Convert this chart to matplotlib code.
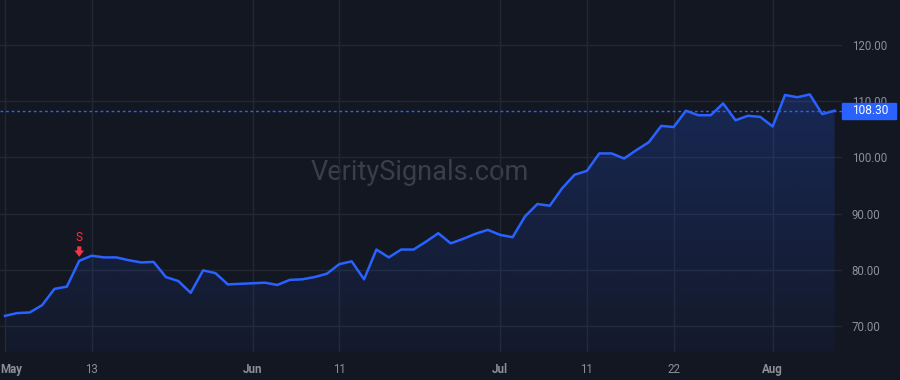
import numpy as np
import matplotlib
matplotlib.use('Agg')
import matplotlib.pyplot as plt
import matplotlib.transforms as mtransforms
from matplotlib.patches import Rectangle

# daily closes (one per trading session)
closes = [71.8, 72.3, 72.4, 73.7, 76.6, 77.0, 81.6, 82.5, 82.2, 82.2,
          81.7, 81.3, 81.4, 78.7, 78.0, 75.9, 79.9, 79.4, 77.4, 77.5,
          77.6, 77.7, 77.3, 78.2, 78.3, 78.7, 79.3, 81.0, 81.5, 78.3,
          83.6, 82.2, 83.6, 83.6, 85.0, 86.5, 84.7, 85.5, 86.4, 87.1,
          86.2, 85.8, 89.5, 91.7, 91.4, 94.5, 96.9, 97.6, 100.7, 100.7,
          99.8, 101.3, 102.7, 105.6, 105.4, 108.3, 107.5, 107.5, 109.6, 106.6,
          107.4, 107.2, 105.5, 111.1, 110.7, 111.2, 107.7, 108.3]
last_price = 108.30

tick_idx = [0, 7, 20, 27, 40, 47, 54, 62]
tick_labels = ['May', '13', 'Jun', '11', 'Jul', '11', '22', 'Aug']
month_labels = ['May', 'Jun', 'Jul', 'Aug']
yticks = [70, 80, 90, 100, 110, 120]

signal_idx = 6  # sell signal
signal_text = 'S'

bg = '#131722'
grid_c = '#232733'
line_c = '#2962ff'
text_c = '#8c8f98'
red = '#f23645'

plt.rcParams['font.family'] = ['Roboto', 'DejaVu Sans']

fig = plt.figure(figsize=(9, 3.8), dpi=100, facecolor=bg)
ax = fig.add_axes([0, 28/380, 842/900, 352/380], facecolor=bg)

x = np.arange(len(closes))
y = np.array(closes)

ymin, ymax = 65.37, 128.0
ax.set_xlim(-0.4, 67.6)
ax.set_ylim(ymin, ymax)

# gradient area under the line, clipped to the filled polygon
poly = ax.fill_between(x, y, 0, color='none', lw=0)
grad = np.linspace(0, 1, 256).reshape(-1, 1)
cmap = matplotlib.colors.LinearSegmentedColormap.from_list(
    'g', [(41/255, 98/255, 1.0, 0.04), (41/255, 98/255, 1.0, 0.23)])
im = ax.imshow(grad, aspect='auto', cmap=cmap, origin='lower',
               extent=[x[0], x[-1], ymin, y.max()], zorder=1)
im.set_clip_path(poly.get_paths()[0], transform=ax.transData)

ax.plot(x, y, color=line_c, lw=1.8, zorder=3, solid_joinstyle='round')

# last price dotted line
ax.axhline(last_price, color=line_c, lw=1, ls=(0, (2, 2)), zorder=2)

# grid + axes
ax.set_yticks(yticks)
ax.set_xticks(tick_idx)
ax.grid(True, color=grid_c, lw=1)
ax.set_axisbelow(True)
for s in ax.spines.values():
    s.set_visible(False)

ax.yaxis.tick_right()
ax.tick_params(axis='y', length=0, pad=7, labelsize=8.3, labelcolor=text_c)
ax.set_yticklabels([f'{v:.2f}' for v in yticks])
ax.tick_params(axis='x', length=0, pad=8, labelsize=8.3, labelcolor=text_c)
ax.set_xticklabels(tick_labels)
for i, lab in enumerate(ax.get_xticklabels()):
    if lab.get_text() in month_labels:
        lab.set_fontweight('bold')
    if i == 0:  # first label is pushed inside the figure
        lab.set_ha('left')
        lab.set_transform(lab.get_transform() +
                          mtransforms.ScaledTranslation(-5/100, 0, fig.dpi_scale_trans))

# price tag on the right axis
trans = mtransforms.blended_transform_factory(ax.transAxes, ax.transData)
ax.add_patch(Rectangle((1.0, last_price - 1.45), 54/842, 2.9, transform=trans,
                       color=line_c, clip_on=False, zorder=5))
ax.text(1.0 + 10/842, last_price, f'{last_price:.2f}', transform=trans,
        color='white', fontsize=8.6, va='center', ha='left', zorder=6)

# watermark
ax.text(0.499, 0.511, 'VeritySignals.com', transform=ax.transAxes,
        ha='center', va='center', fontsize=19.5, color='#3a3e49', zorder=0)

# sell marker: arrow just above the bar, letter above the arrow
arr_t = ax.transData + mtransforms.ScaledTranslation(0, 4/100, fig.dpi_scale_trans)
ax.annotate('', xy=(signal_idx, closes[signal_idx]), xycoords=arr_t,
            xytext=(0, 7.5), textcoords='offset points',
            arrowprops=dict(arrowstyle='simple,head_width=0.7,head_length=0.45,tail_width=0.3',
                            color=red, lw=0, shrinkA=0, shrinkB=0), zorder=6)
ax.annotate(signal_text, xy=(signal_idx, closes[signal_idx]),
            xytext=(0, 17), textcoords='offset points', ha='center', va='center',
            color=red, fontsize=8.5, zorder=6)

fig.savefig('out.png', dpi=100, facecolor=bg)
